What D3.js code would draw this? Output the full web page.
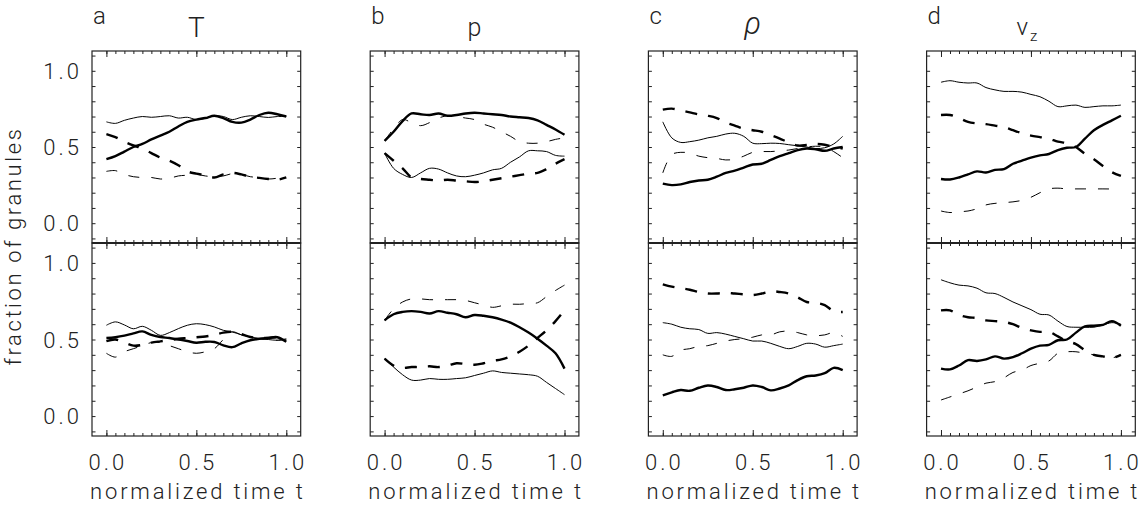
<!DOCTYPE html>
<html><head><meta charset="utf-8">
<script src="https://cdn.jsdelivr.net/npm/d3@7"></script>
<style>
body{margin:0;background:#fff}
text{font-family:Roboto,"DejaVu Sans",sans-serif;font-weight:300;fill:#222}
</style>
</head><body><svg id="c" width="1142" height="508"></svg>
<script>
// ---------- data ----------
const tGrid = [0,0.05,0.1,0.15,0.2,0.25,0.3,0.35,0.4,0.45,0.5,0.55,0.6,0.65,0.7,0.75,0.8,0.85,0.9,0.95,1.0];
const panelLetters = ["a","b","c","d"];
const panelTitles = ["T","p","ρ","v"];
const yTickLabels = ["0.0","0.5","1.0"];
const xTickLabels = ["0.0","0.5","1.0"];
const yLabel = "fraction of granules";
const xLabel = "normalized time t";

// a (T) top
const aTopThick    = [0.42,0.44,0.47,0.50,0.52,0.55,0.575,0.60,0.635,0.665,0.68,0.69,0.705,0.69,0.665,0.66,0.68,0.71,0.725,0.715,0.70];
const aTopThin     = [0.665,0.655,0.675,0.69,0.70,0.695,0.70,0.705,0.69,0.695,0.68,0.688,0.705,0.70,0.68,0.695,0.705,0.70,0.694,0.70,0.70];
const aTopThickDash= [0.585,0.565,0.535,0.51,0.49,0.46,0.43,0.41,0.38,0.34,0.325,0.315,0.30,0.32,0.33,0.32,0.305,0.297,0.29,0.285,0.30];
const aTopThinDash = [0.34,0.345,0.32,0.305,0.30,0.30,0.29,0.295,0.31,0.315,0.32,0.31,0.305,0.31,0.325,0.32,0.305,0.30,0.29,0.295,0.30];
// a (T) bottom
const aBotThick    = [0.51,0.515,0.525,0.54,0.553,0.53,0.516,0.51,0.50,0.49,0.479,0.485,0.484,0.462,0.45,0.475,0.495,0.505,0.51,0.515,0.485];
const aBotThin     = [0.593,0.615,0.595,0.57,0.586,0.56,0.527,0.545,0.571,0.593,0.603,0.597,0.582,0.56,0.549,0.531,0.516,0.505,0.50,0.495,0.505];
const aBotThickDash= [0.49,0.50,0.48,0.46,0.465,0.48,0.488,0.495,0.505,0.51,0.515,0.52,0.53,0.545,0.55,0.535,0.516,0.51,0.51,0.515,0.505];
const aBotThinDash = [0.41,0.385,0.42,0.44,0.46,0.48,0.48,0.46,0.44,0.42,0.41,0.42,0.44,0.50,0.55,0.53,0.516,0.505,0.50,0.495,0.50];
// b (p) top
const bTopThick    = [0.54,0.60,0.67,0.72,0.715,0.71,0.72,0.705,0.71,0.72,0.725,0.72,0.715,0.71,0.70,0.695,0.69,0.675,0.645,0.615,0.58];
const bTopThin     = [0.46,0.36,0.32,0.30,0.33,0.36,0.355,0.33,0.31,0.305,0.315,0.33,0.35,0.36,0.40,0.435,0.475,0.475,0.47,0.445,0.44];
const bTopThickDash= [0.46,0.41,0.36,0.30,0.29,0.285,0.28,0.285,0.28,0.275,0.27,0.275,0.285,0.295,0.305,0.315,0.325,0.33,0.355,0.39,0.42];
const bTopThinDash = [0.54,0.62,0.68,0.66,0.64,0.66,0.69,0.705,0.70,0.69,0.68,0.65,0.63,0.60,0.57,0.535,0.525,0.525,0.535,0.55,0.56];
// b (p) bottom
const bBotThick    = [0.625,0.665,0.68,0.685,0.68,0.67,0.685,0.675,0.665,0.645,0.66,0.655,0.645,0.63,0.61,0.58,0.545,0.505,0.46,0.41,0.31];
const bBotThin     = [0.375,0.32,0.27,0.235,0.235,0.245,0.24,0.24,0.245,0.25,0.265,0.28,0.295,0.285,0.28,0.275,0.27,0.26,0.22,0.18,0.14];
const bBotThickDash= [0.375,0.33,0.315,0.32,0.32,0.325,0.32,0.33,0.345,0.34,0.335,0.345,0.36,0.37,0.39,0.42,0.46,0.51,0.56,0.62,0.69];
const bBotThinDash = [0.625,0.70,0.745,0.765,0.765,0.76,0.76,0.76,0.76,0.755,0.74,0.725,0.71,0.72,0.73,0.73,0.735,0.74,0.78,0.82,0.855];
// c (rho) top
const cTopThick    = [0.26,0.25,0.255,0.27,0.28,0.285,0.305,0.33,0.345,0.365,0.385,0.39,0.415,0.44,0.46,0.48,0.49,0.485,0.475,0.49,0.50];
const cTopThin     = [0.665,0.56,0.53,0.535,0.545,0.56,0.57,0.585,0.59,0.57,0.525,0.522,0.525,0.523,0.515,0.508,0.50,0.49,0.495,0.52,0.57];
const cTopThickDash= [0.745,0.752,0.74,0.727,0.714,0.705,0.69,0.66,0.64,0.62,0.61,0.60,0.578,0.555,0.53,0.51,0.513,0.52,0.515,0.50,0.49];
const cTopThinDash = [0.33,0.45,0.465,0.46,0.44,0.43,0.425,0.415,0.42,0.44,0.465,0.47,0.47,0.475,0.48,0.49,0.50,0.505,0.50,0.47,0.43];
// c (rho) bottom
const cBotThick    = [0.135,0.155,0.17,0.165,0.185,0.20,0.19,0.17,0.175,0.185,0.20,0.19,0.168,0.18,0.20,0.235,0.26,0.265,0.28,0.315,0.30];
const cBotThin     = [0.61,0.60,0.58,0.57,0.565,0.54,0.545,0.535,0.52,0.505,0.49,0.49,0.475,0.455,0.44,0.455,0.475,0.47,0.45,0.46,0.47];
const cBotThickDash= [0.86,0.845,0.835,0.825,0.81,0.80,0.80,0.805,0.80,0.795,0.79,0.80,0.815,0.81,0.80,0.775,0.745,0.74,0.725,0.685,0.68];
const cBotThinDash = [0.40,0.39,0.43,0.44,0.455,0.46,0.475,0.49,0.50,0.505,0.515,0.53,0.53,0.55,0.555,0.545,0.53,0.525,0.53,0.545,0.52];
// d (v_z) top
const dTopThick    = [0.29,0.287,0.30,0.32,0.34,0.333,0.35,0.355,0.39,0.41,0.43,0.445,0.454,0.48,0.495,0.50,0.555,0.61,0.645,0.675,0.705];
const dTopThin     = [0.925,0.935,0.925,0.92,0.92,0.89,0.875,0.865,0.865,0.86,0.845,0.83,0.80,0.765,0.77,0.775,0.76,0.765,0.77,0.77,0.775];
const dTopThickDash= [0.71,0.71,0.69,0.665,0.655,0.65,0.64,0.63,0.61,0.59,0.575,0.565,0.555,0.535,0.525,0.50,0.455,0.42,0.375,0.335,0.31];
const dTopThinDash = [0.08,0.07,0.075,0.08,0.095,0.12,0.13,0.135,0.14,0.15,0.17,0.20,0.225,0.23,0.225,0.225,0.225,0.225,0.225,0.225,0.23];
// d (v_z) bottom
const dBotThick    = [0.31,0.305,0.33,0.365,0.36,0.37,0.39,0.375,0.385,0.41,0.44,0.46,0.465,0.495,0.50,0.545,0.585,0.59,0.595,0.62,0.59];
const dBotThin     = [0.89,0.87,0.855,0.85,0.835,0.805,0.80,0.775,0.745,0.72,0.695,0.665,0.66,0.62,0.585,0.58,0.58,0.58,0.595,0.61,0.60];
const dBotThickDash= [0.69,0.69,0.66,0.645,0.64,0.625,0.62,0.615,0.60,0.575,0.56,0.55,0.55,0.52,0.49,0.47,0.43,0.40,0.39,0.38,0.40];
const dBotThinDash = [0.105,0.125,0.145,0.165,0.19,0.215,0.225,0.25,0.285,0.30,0.33,0.345,0.36,0.41,0.42,0.42,0.41,0.40,0.39,0.38,0.40];

// ---------- layout ----------
const svg = d3.select("#c");
const W = 1142, H = 508;
svg.append("rect").attr("width",W).attr("height",H).attr("fill","#fff");

const colLeft0 = 92, colStep = 278.2, panelW = 208.7;
const rowsY = [[51,243],[243,436]];

const styles = {
  thick:     {w:2.4, dash:null},
  thin:      {w:1.0, dash:null},
  thickDash: {w:2.4, dash:"12,11"},
  thinDash:  {w:1.0, dash:"11,12"}
};

const panelSeries = [
  [ {thick:aTopThick, thin:aTopThin, thickDash:aTopThickDash, thinDash:aTopThinDash},
    {thick:aBotThick, thin:aBotThin, thickDash:aBotThickDash, thinDash:aBotThinDash} ],
  [ {thick:bTopThick, thin:bTopThin, thickDash:bTopThickDash, thinDash:bTopThinDash},
    {thick:bBotThick, thin:bBotThin, thickDash:bBotThickDash, thinDash:bBotThinDash} ],
  [ {thick:cTopThick, thin:cTopThin, thickDash:cTopThickDash, thinDash:cTopThinDash},
    {thick:cBotThick, thin:cBotThin, thickDash:cBotThickDash, thinDash:cBotThinDash} ],
  [ {thick:dTopThick, thin:dTopThin, thickDash:dTopThickDash, thinDash:dTopThinDash},
    {thick:dBotThick, thin:dBotThin, thickDash:dBotThickDash, thinDash:dBotThinDash} ]
];

const xMinor = d3.range(0, 1.0001, 0.05);
const xMajor = [0, 0.5, 1.0];
const yMinor = d3.range(-0.1, 1.1001, 0.1);
const yMajor = [0, 0.5, 1.0];

panelSeries.forEach((col, ci) => {
  const left = colLeft0 + ci*colStep;
  const x = d3.scaleLinear().domain([-0.08, 1.08]).range([left, left+panelW]);
  col.forEach((seriesSet, ri) => {
    const [top, bottom] = rowsY[ri];
    const y = d3.scaleLinear().domain([-0.13, 1.13]).range([bottom, top]);
    const g = svg.append("g");

    // axes with inward ticks
    const axB = g.append("g").attr("transform",`translate(0,${bottom})`);
    axB.call(d3.axisBottom(x).tickValues(xMinor).tickSize(-3).tickFormat(""));
    axB.append("g").call(d3.axisBottom(x).tickValues(xMajor).tickSize(-6).tickFormat(""));
    const axT = g.append("g").attr("transform",`translate(0,${top})`);
    axT.call(d3.axisTop(x).tickValues(xMinor).tickSize(-3).tickFormat(""));
    axT.append("g").call(d3.axisTop(x).tickValues(xMajor).tickSize(-6).tickFormat(""));
    const axL = g.append("g").attr("transform",`translate(${left},0)`);
    axL.call(d3.axisLeft(y).tickValues(yMinor).tickSize(-3.5).tickFormat(""));
    const axR = g.append("g").attr("transform",`translate(${left+panelW},0)`);
    axR.call(d3.axisRight(y).tickValues(yMinor).tickSize(-3.5).tickFormat(""));
    g.selectAll(".domain").remove();
    g.selectAll(".tick line").attr("stroke","#222").attr("stroke-width",1);

    g.append("rect").attr("x",left).attr("y",top).attr("width",panelW).attr("height",bottom-top)
      .attr("fill","none").attr("stroke","#222").attr("stroke-width",1.2);

    // series
    const line = d3.line().x((d,i)=>x(tGrid[i])).y(d=>y(d)).curve(d3.curveCatmullRom);
    ["thinDash","thin","thickDash","thick"].forEach(k => {
      const st = styles[k];
      g.append("path").attr("d", line(seriesSet[k]))
        .attr("fill","none").attr("stroke","#000")
        .attr("stroke-width", st.w)
        .attr("stroke-linejoin","round")
        .attr("stroke-dasharray", st.dash);
    });

    // y tick labels (first column only)
    if (ci === 0) {
      yMajor.forEach((v,i) => {
        g.append("text").attr("x", 82).attr("y", y(v)+8)
          .attr("text-anchor","end").attr("font-size",22).attr("letter-spacing",3)
          .text(yTickLabels[i]);
      });
    }
    // x tick labels (bottom row)
    if (ri === 1) {
      xMajor.forEach((v,i) => {
        g.append("text").attr("x", x(v)+1.5).attr("y", 470)
          .attr("text-anchor","middle").attr("font-size",22).attr("letter-spacing",3)
          .text(xTickLabels[i]);
      });
      g.append("text").attr("x", left+panelW/2+1.5).attr("y", 499)
        .attr("text-anchor","middle").attr("font-size",22).attr("letter-spacing",2.8)
        .text(xLabel);
    }
  });

  // letter and title
  svg.append("text").attr("x", left+1).attr("y", 24).attr("font-size",24).text(panelLetters[ci]);
  const cx = left + panelW/2;
  if (ci === 2) {
    svg.append("text").attr("x", cx).attr("y", 34).attr("text-anchor","middle")
      .attr("font-size",31).attr("font-style","italic").text(panelTitles[ci]);
  } else if (ci === 3) {
    const t = svg.append("text").attr("x", cx-4).attr("y", 35).attr("text-anchor","middle").attr("font-size",24);
    t.append("tspan").text(panelTitles[ci]);
    t.append("tspan").attr("dx",2).attr("dy",6).attr("font-size",15).text("z");
  } else if (ci === 0) {
    svg.append("text").attr("x", cx).attr("y", 37).attr("text-anchor","middle").attr("font-size",28).text(panelTitles[ci]);
  } else {
    svg.append("text").attr("x", cx).attr("y", 36).attr("text-anchor","middle").attr("font-size",25).text(panelTitles[ci]);
  }
});

// divider emphasis between rows
svg.append("g").selectAll("line").data([0,1,2,3]).join("line")
  .attr("x1", d => colLeft0 + d*colStep).attr("x2", d => colLeft0 + d*colStep + panelW)
  .attr("y1", 243).attr("y2", 243).attr("stroke","#222").attr("stroke-width",2);

// y label
svg.append("text").attr("transform","translate(21,246) rotate(-90)")
  .attr("text-anchor","middle").attr("font-size",22).attr("letter-spacing",2.6)
  .text(yLabel);
</script>
</body></html>
